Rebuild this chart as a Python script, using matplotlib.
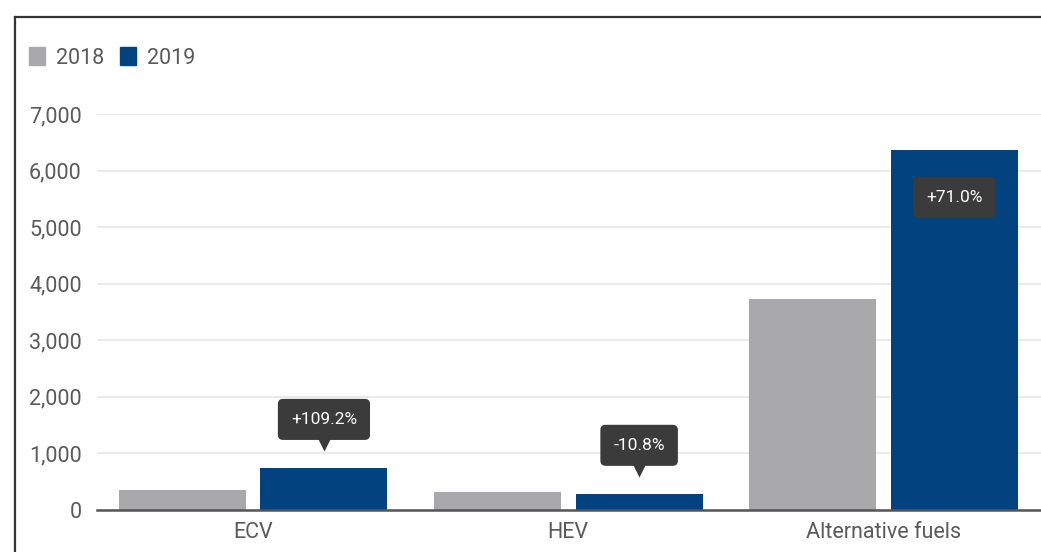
import numpy as np
import matplotlib
matplotlib.use('Agg')
import matplotlib.pyplot as plt
from matplotlib.patches import Patch
from matplotlib.lines import Line2D
from matplotlib.transforms import offset_copy

plt.rcParams['font.family'] = ['Roboto', 'DejaVu Sans']

# data
categories = ['ECV', 'HEV', 'Alternative fuels']
years = ['2018', '2019']
sales_2018 = [355, 318, 3728]
sales_2019 = [742, 284, 6365]
changes = ['+109.2%', '-10.8%', '+71.0%']
yticks = [0, 1000, 2000, 3000, 4000, 5000, 6000, 7000]

grey = '#a9a9ac'
blue = '#01427f'
tip_bg = '#3b3b3b'
txt = '#5a5a5a'

fig = plt.figure(figsize=(10.41, 5.52), dpi=100)
ax = fig.add_axes([97/1041, 1-510/552, 1-97/1041, (510-114)/552])

x = np.arange(len(categories))
w = 0.403
off = 0.225
ax.bar(x - off, sales_2018, w, color=grey, zorder=3)
ax.bar(x + off, sales_2019, w, color=blue, zorder=3)

ax.set_xlim(-0.495, 2.5)
ax.set_ylim(0, 7000)
ax.set_yticks(yticks)
ax.set_yticklabels([f'{v:,}' for v in yticks])
ax.set_xticks(x)
ax.set_xticklabels(categories)
ax.tick_params(axis='y', length=0, pad=11, labelsize=15.5, labelcolor=txt)
ax.tick_params(axis='x', length=0, pad=9, labelsize=15.5, labelcolor=txt)
ax.grid(axis='y', color='#e8e8e8', lw=1.3, zorder=0)
ax.set_axisbelow(True)
for s in ['top', 'right', 'left']:
    ax.spines[s].set_visible(False)
ax.spines['bottom'].set_color('#555555')
ax.spines['bottom'].set_linewidth(1.8)
ax.spines['bottom'].set_zorder(4)

# change labels
for i, lab in enumerate(changes):
    xv = x[i] + off
    top = sales_2019[i]
    if i < 2:
        dy = 35
        tr = offset_copy(ax.transData, fig=fig, x=0, y=18, units='points')
        ax.plot([xv], [top], marker='v', ms=11, color=tip_bg, mec='none',
                transform=tr, zorder=5, clip_on=False)
    else:
        dy = -34
    ax.annotate(lab, xy=(xv, top), xytext=(0, dy), textcoords='offset points',
                ha='center', va='center', color='white', fontsize=12.5,
                bbox=dict(boxstyle='round,pad=0.75,rounding_size=0.3',
                          fc=tip_bg, ec='none'), zorder=6)

handles = [Patch(color=grey, label=years[0]), Patch(color=blue, label=years[1])]
fig.legend(handles=handles, loc='center left', bbox_to_anchor=(29/1041, 1-58/552),
           ncol=2, frameon=False, fontsize=15.5, labelcolor=txt,
           handlelength=0.75, handleheight=0.85, handletextpad=0.5,
           columnspacing=0.75, borderpad=0, borderaxespad=0)

# outer frame (top and left)
fig.add_artist(Line2D([15/1041, 15/1041], [0, 1-17/552], color='#333333', lw=1.6,
                      transform=fig.transFigure))
fig.add_artist(Line2D([15/1041, 1], [1-17/552, 1-17/552], color='#333333', lw=1.6,
                      transform=fig.transFigure))

fig.savefig('out.png', dpi=100)
